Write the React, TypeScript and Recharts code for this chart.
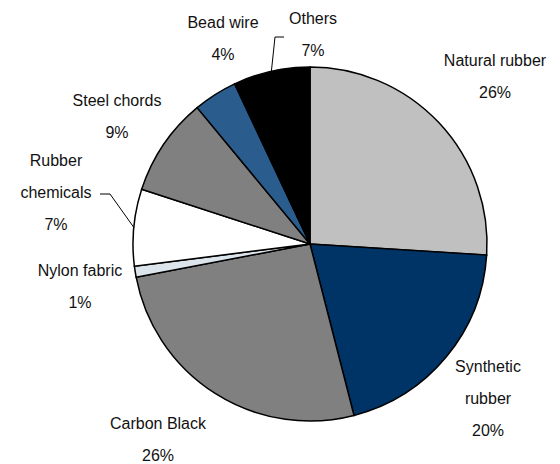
import React from 'react';
import { PieChart, Pie, Cell } from 'recharts';

// Tyre raw material cost split, clockwise from 12 o'clock
const materials = [
  'Natural rubber',
  'Synthetic rubber',
  'Carbon Black',
  'Nylon fabric',
  'Rubber chemicals',
  'Steel chords',
  'Bead wire',
  'Others',
];
const shares = [26, 20, 26, 1, 7, 9, 4, 7];
const labelLines = [
  ['Natural rubber'],
  ['Synthetic', 'rubber'],
  ['Carbon Black'],
  ['Nylon fabric'],
  ['Rubber', 'chemicals'],
  ['Steel chords'],
  ['Bead wire'],
  ['Others'],
];

const colors = ['#C0C0C0', '#003466', '#808080', '#DCE4EC', '#FFFFFF', '#808080', '#2A5D8E', '#000000'];

// where each label block sits (centre x, first line y)
const labelPos = [
  { x: 495, y: 60 },
  { x: 488, y: 366 },
  { x: 158, y: 423 },
  { x: 80, y: 270 },
  { x: 56, y: 160 },
  { x: 117, y: 100 },
  { x: 223, y: 22 },
  { x: 313, y: 18 },
];

// elbow leaders: start point, elbow point; they end on the slice edge
const leaders: Record<number, { sx: number; sy: number; ex: number; ey: number }> = {
  4: { sx: 100, sy: 194, ex: 110, ey: 194 },
  7: { sx: 284, sy: 37, ex: 275, ey: 37 },
};

const data = materials.map((name, i) => ({ name, value: shares[i] }));

const LINE_GAP = 32;
const RAD = Math.PI / 180;

const renderLabel = (props: any) => {
  const { index, cx, cy, midAngle, outerRadius } = props;
  const pos = labelPos[index];
  const lines = [...labelLines[index], `${shares[index]}%`];
  const lead = leaders[index];
  let leader = null;
  if (lead) {
    const px = cx + outerRadius * Math.cos(-midAngle * RAD);
    const py = cy + outerRadius * Math.sin(-midAngle * RAD);
    leader = (
      <polyline
        points={`${lead.sx},${lead.sy} ${lead.ex},${lead.ey} ${px},${py}`}
        fill="none"
        stroke="#000"
        strokeWidth={1}
      />
    );
  }
  return (
    <g key={`lbl-${index}`}>
      {leader}
      {lines.map((t, k) => (
        <text
          key={k}
          x={pos.x}
          y={pos.y + k * LINE_GAP}
          textAnchor="middle"
          dominantBaseline="central"
          fontFamily="'Liberation Sans', Arial, sans-serif"
          fontSize={16}
          fill="#111"
        >
          {t}
        </text>
      ))}
    </g>
  );
};

export default function App() {
  return (
    <div style={{ position: 'absolute', left: 0, top: 0, background: '#fff' }}>
      <PieChart width={560} height={464} margin={{ top: 0, right: 0, bottom: 0, left: 0 }}>
        <Pie
          data={data}
          dataKey="value"
          nameKey="name"
          cx={310}
          cy={244}
          outerRadius={177}
          startAngle={90}
          endAngle={-270}
          stroke="#000"
          strokeWidth={1.5}
          label={renderLabel}
          labelLine={false}
          isAnimationActive={false}
        >
          {data.map((d, i) => (
            <Cell key={d.name} fill={colors[i]} />
          ))}
        </Pie>
      </PieChart>
    </div>
  );
}
